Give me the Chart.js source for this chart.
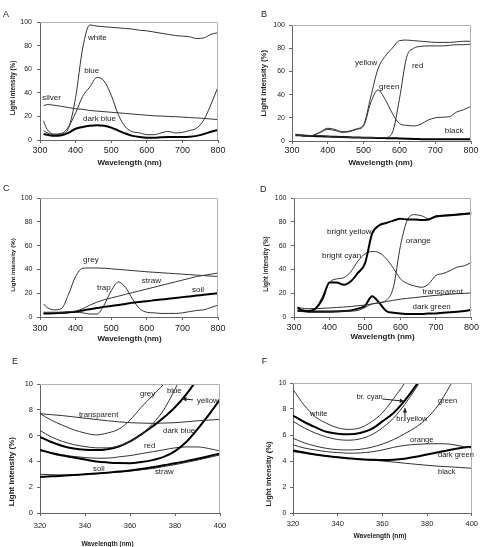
<!DOCTYPE html>
<html>
<head>
<meta charset="utf-8">
<script src="https://cdn.jsdelivr.net/npm/chart.js@4.4.0/dist/chart.umd.min.js"></script>
<style>
  body { margin: 0; background: #fff; width: 481px; height: 547px; position: relative; overflow: hidden; }
  canvas { position: absolute; }
</style>
</head>
<body>
<canvas id="cA" width="240" height="180" style="left:0;top:0"></canvas>
<canvas id="cB" width="241" height="180" style="left:240px;top:0"></canvas>
<canvas id="cC" width="240" height="170" style="left:0;top:180px"></canvas>
<canvas id="cD" width="241" height="170" style="left:240px;top:180px"></canvas>
<canvas id="cE" width="240" height="197" style="left:0;top:350px"></canvas>
<canvas id="cF" width="241" height="197" style="left:240px;top:350px"></canvas>
<script>
// wavelengths (nm)
const wl = [310, 320, 340, 360, 380, 400, 420, 440, 460, 480, 500, 520, 540, 560, 580, 600, 620, 640, 660, 680, 700, 720, 740, 760, 780, 800];
const wlUv = [320, 325, 330, 335, 340, 345, 350, 355, 360, 365, 370, 375, 380, 385, 390, 395, 400];

// A
const aWhite = [8, 6, 4.5, 5, 10, 36, 78, 97.5, 96.5, 96, 95.5, 95, 94.5, 94, 93, 92.5, 91.5, 90.5, 89.5, 88.5, 88, 87.5, 86, 86.5, 89.5, 91];
const aBlue = [16, 9, 5, 5.5, 11, 23, 37, 45, 53, 50, 38, 21.5, 11, 7, 6, 4.5, 4.5, 6, 7.3, 6, 6.5, 8, 10, 17, 30, 45];
const aSilver = [29, 30, 29.5, 28.5, 27.5, 26.5, 26, 25, 24.5, 24, 23.5, 23, 22.5, 22, 21.5, 21, 20.5, 20.3, 20, 19.7, 19.4, 19, 18.7, 18.3, 17.8, 17.3];
const aDarkBlue = [5, 4.5, 3.5, 4, 6, 9.5, 11, 12, 12.5, 12, 10.5, 8, 5.5, 3.5, 2.5, 2, 2, 2.3, 2.5, 2.5, 2.5, 2.7, 3.5, 5, 7, 8.5];

// B
const bYellow = [6, 5, 4, 5, 8, 11, 10, 8, 8.5, 10.5, 14, 38, 62, 73, 80, 86.5, 87, 86.5, 86, 85.5, 85, 85, 85, 85.5, 86, 86];
const bGreen = [5.5, 5, 4, 5, 7.5, 10, 9, 7.5, 8, 10, 13, 33, 44, 36, 24, 15, 13.5, 13, 14.5, 18, 20, 20.5, 21, 25, 27, 30];
const bRed = [5, 5, 4.5, 4.5, 4.5, 4, 3.5, 3.5, 3, 3, 3, 3, 3, 3, 7, 36, 72, 80, 81.5, 82, 82, 82, 82.5, 83, 83, 83.5];
const bBlack = [5, 5, 4.5, 4.3, 4, 3.8, 3.6, 3.4, 3.2, 3, 2.8, 2.7, 2.6, 2.5, 2.4, 2.2, 2, 1.7, 1.6, 1.5, 1.5, 1.5, 1.5, 1.5, 1.5, 1.5];

// C
const cGrey = [11, 8, 6, 7, 19, 34, 41, 41.2, 41.2, 41, 40.5, 40, 39.5, 39, 38.5, 38, 37.6, 37.2, 36.8, 36.4, 36, 35.6, 35.2, 34.8, 34.4, 34];
const cStraw = [4, 4, 4, 4, 4.5, 5, 7, 10, 12.5, 14.5, 16, 17.5, 19, 20.5, 22, 23.5, 25, 26.5, 28, 29.5, 31, 32.5, 34, 35, 36, 37];
const cSoil = [3, 3, 3.2, 3.5, 4, 4.5, 5.5, 6.5, 7.5, 8.5, 9.3, 10, 11, 12, 12.7, 13.3, 14, 14.7, 15.3, 16, 16.7, 17.3, 18, 18.6, 19.3, 20];
const cTrap = [3, 3, 3, 3, 3.5, 4, 3.5, 2.5, 2.5, 10, 22, 29.5, 25, 15, 7, 4, 3.5, 3, 3, 3, 3.5, 4.5, 5.5, 6, 8, 10];

// D
const dBrYellow = [8, 6, 5, 7, 15, 29, 29, 27, 30, 37, 45, 70, 77, 79, 81, 82.5, 82, 82, 81.5, 82, 84.5, 85, 85.5, 86, 86.5, 87];
const dBrCyan = [6, 5.5, 5, 7, 17, 29, 32, 33, 38, 47, 53, 55, 54, 49, 41, 32, 28, 26, 25, 28, 35, 36.5, 39, 42, 43, 46];
const dOrange = [5, 5, 5, 5, 5, 5, 5, 5, 5, 5.5, 8, 11, 12, 14, 25, 60, 82, 86, 85, 82.5, 85, 85.5, 86, 86.5, 87, 87.5];
const dTransparent = [8, 7.5, 7, 7, 7.3, 7.6, 8, 8.4, 8.8, 9.5, 10, 11, 12, 13, 14, 15, 15.7, 16.3, 17, 17.6, 18.2, 18.7, 19.2, 19.6, 19.9, 20.2];
const dDarkGreen = [5, 5, 4.5, 4.5, 4.5, 4.5, 4.7, 5, 5.5, 7, 9.5, 17.5, 12, 5, 3.5, 3, 2.5, 2.5, 2.5, 3, 3, 3.5, 4, 4.5, 5, 6];

// E (UV detail)
const eGrey = [7.7, 7.2, 6.8, 6.45, 6.2, 6.05, 6.2, 6.5, 7.2, 8.2, 9.1, 10, 11.3, 12.8, 14.5, 16.3, 18];
const eBlue = [6.4, 5.9, 5.55, 5.3, 5.15, 5.05, 5.05, 5.2, 5.55, 6.1, 6.9, 8.0, 9.6, 11.5, 13.5, 15.5, 17.5];
const eYellow = [5.9, 5.5, 5.2, 5.0, 4.9, 4.88, 4.95, 5.15, 5.55, 6.1, 6.7, 7.4, 8.2, 9.2, 10.4, 11.8, 13.2];
const eTransparent = [7.7, 7.62, 7.55, 7.45, 7.35, 7.25, 7.15, 7.07, 7.0, 6.97, 6.95, 6.97, 7.0, 7.07, 7.15, 7.2, 7.26];
const eDarkBlue = [4.9, 4.65, 4.45, 4.3, 4.15, 4.0, 3.92, 3.87, 3.86, 3.95, 4.1, 4.35, 4.8, 5.5, 6.5, 7.6, 8.8];
const eRed = [4.83, 4.65, 4.5, 4.38, 4.3, 4.25, 4.25, 4.35, 4.45, 4.6, 4.75, 4.9, 5.05, 5.12, 5.12, 5.0, 4.8];
const eSoil = [2.8, 2.84, 2.88, 2.94, 3.0, 3.06, 3.13, 3.21, 3.3, 3.42, 3.55, 3.7, 3.85, 4.02, 4.2, 4.4, 4.62];
const eStraw = [3.0, 2.97, 2.95, 2.97, 3.0, 3.05, 3.1, 3.17, 3.25, 3.35, 3.45, 3.6, 3.75, 3.92, 4.1, 4.3, 4.5];

// F (UV detail)
const fWhite = [9.5, 8.3, 7.4, 6.9, 6.55, 6.43, 6.55, 7.0, 7.7, 8.8, 10, 11.5, 13.2, 15, 17, 19, 21];
const fBrYellow = [7.5, 7.0, 6.6, 6.25, 6.1, 6.05, 6.15, 6.45, 7.05, 7.7, 8.65, 9.8, 11.2, 12.8, 14.5, 16.3, 18];
const fBrCyan = [7.05, 6.55, 6.15, 5.85, 5.65, 5.6, 5.7, 6.0, 6.55, 7.3, 8.35, 9.6, 11, 12.6, 14.3, 16, 18];
const fGreen = [5.75, 5.4, 5.15, 4.97, 4.87, 4.85, 4.9, 5.05, 5.3, 5.65, 6.1, 6.6, 7.3, 8.3, 9.7, 11.2, 12.8];
const fOrange = [5.25, 5.0, 4.85, 4.72, 4.65, 4.6, 4.62, 4.7, 4.85, 5.05, 5.2, 5.28, 5.32, 5.33, 5.3, 5.15, 5.0];
const fDarkGreen = [4.8, 4.65, 4.5, 4.38, 4.28, 4.2, 4.13, 4.1, 4.08, 4.1, 4.18, 4.32, 4.5, 4.68, 4.85, 5.0, 5.1];
const fBlack = [4.72, 4.6, 4.48, 4.38, 4.3, 4.22, 4.15, 4.07, 4.0, 3.92, 3.83, 3.75, 3.67, 3.6, 3.55, 3.5, 3.44];

const FONT = "'Liberation Sans', Arial, sans-serif";
const INK = '#222';

// draws panel letter, curve labels, arrows, axis titles and the light frame
function extras(p) {
  return {
    id: 'extras',
    afterDatasetsDraw(chart) {
      const ctx = chart.ctx, xs = chart.scales.x, ys = chart.scales.y, ca = chart.chartArea;
      ctx.save();
      ctx.strokeStyle = '#b0b0b0';
      ctx.lineWidth = 1;
      ctx.beginPath();
      ctx.moveTo(ca.left, Math.round(ca.top) + 0.5);
      ctx.lineTo(Math.round(ca.right) - 0.5, Math.round(ca.top) + 0.5);
      ctx.lineTo(Math.round(ca.right) - 0.5, ca.bottom);
      ctx.stroke();

      ctx.fillStyle = INK;
      ctx.textBaseline = 'middle';
      ctx.textAlign = 'left';
      ctx.font = p.noteSize + 'px ' + FONT;
      p.notes.forEach(n => ctx.fillText(n[0], xs.getPixelForValue(n[1]), ys.getPixelForValue(n[2])));

      ctx.strokeStyle = INK;
      (p.arrows || []).forEach(a => {
        const x1 = xs.getPixelForValue(a[0]), y1 = ys.getPixelForValue(a[1]);
        const x2 = xs.getPixelForValue(a[2]), y2 = ys.getPixelForValue(a[3]);
        const ang = Math.atan2(y2 - y1, x2 - x1);
        ctx.beginPath();
        ctx.moveTo(x1, y1);
        ctx.lineTo(x2, y2);
        ctx.stroke();
        ctx.beginPath();
        ctx.moveTo(x2, y2);
        ctx.lineTo(x2 - 5 * Math.cos(ang - 0.45), y2 - 5 * Math.sin(ang - 0.45));
        ctx.lineTo(x2 - 5 * Math.cos(ang + 0.45), y2 - 5 * Math.sin(ang + 0.45));
        ctx.closePath();
        ctx.fill();
      });

      ctx.font = '9px ' + FONT;
      ctx.fillText(p.letter, p.letterAt[0], p.letterAt[1]);

      ctx.textAlign = 'center';
      ctx.font = 'bold ' + p.xTitle[2] + 'px ' + FONT;
      ctx.fillText('Wavelength (nm)', p.xTitle[0], p.xTitle[1]);
      ctx.translate(p.yTitle[0], p.yTitle[1]);
      ctx.rotate(-Math.PI / 2);
      ctx.font = 'bold ' + p.yTitle[2] + 'px ' + FONT;
      ctx.fillText('Light intensity (%)', 0, 0);
      ctx.restore();
    }
  };
}

function panel(id, p) {
  const cv = document.getElementById(id);
  const W = cv.width, H = cv.height, box = p.box;
  return new Chart(cv, {
    type: 'line',
    data: {
      datasets: p.series.map(s => ({
        data: s[0].map((v, i) => ({ x: p.x[i], y: v })),
        borderColor: s[1] ? '#000' : '#333',
        borderWidth: s[1] ? 2 : 1,
        pointRadius: 0,
        fill: false,
        cubicInterpolationMode: 'monotone'
      }))
    },
    options: {
      responsive: false,
      animation: false,
      devicePixelRatio: 1,
      layout: { padding: { left: 0, top: box[1], right: W - box[2], bottom: 0 } },
      plugins: { legend: { display: false }, tooltip: { enabled: false } },
      scales: {
        x: {
          type: 'linear', min: p.xRange[0], max: p.xRange[1],
          afterFit: s => { s.height = H - box[3]; },
          ticks: { stepSize: p.xRange[2], autoSkip: false, maxRotation: 0, padding: p.tickPad[0], color: INK, font: { size: p.tickSize[0] } },
          grid: { drawOnChartArea: false, tickLength: 3, color: '#666' },
          border: { color: '#666' }
        },
        y: {
          min: 0, max: p.yRange[0],
          afterFit: s => { s.width = box[0]; },
          ticks: { stepSize: p.yRange[1], padding: p.tickPad[1], color: INK, font: { size: p.tickSize[1] } },
          grid: { drawOnChartArea: false, tickLength: 3, color: '#666' },
          border: { color: '#666' }
        }
      }
    },
    plugins: [extras(p)]
  });
}

Chart.defaults.font.family = FONT;

panel('cA', {
  x: wl, box: [40, 22, 218, 140], xRange: [300, 800, 100], yRange: [100, 20],
  tickSize: [9, 7], tickPad: [2, 5],
  series: [[aWhite], [aBlue], [aSilver], [aDarkBlue, true]],
  letter: 'A', letterAt: [3, 15], noteSize: 8,
  notes: [['white', 435, 87], ['blue', 424, 58.5], ['silver', 306, 35.6], ['dark blue', 421, 17.8]],
  xTitle: [129.5, 163, 8], yTitle: [13.3, 88, 6.3]
});

panel('cB', {
  x: wl, box: [52, 25, 231, 141], xRange: [300, 800, 100], yRange: [100, 20],
  tickSize: [9, 7], tickPad: [1.5, 4],
  series: [[bYellow], [bGreen], [bRed], [bBlack, true]],
  letter: 'B', letterAt: [21, 14.5], noteSize: 8,
  notes: [['yellow', 476, 67], ['red', 635, 64.7], ['green', 543, 46.6], ['black', 727, 8.6]],
  xTitle: [140.5, 163, 8], yTitle: [24, 83.3, 7.7]
});

panel('cC', {
  x: wl, box: [40, 18, 218, 137], xRange: [300, 800, 100], yRange: [100, 20],
  tickSize: [9, 7], tickPad: [3, 4.5],
  series: [[cGrey], [cStraw], [cSoil, true], [cTrap]],
  letter: 'C', letterAt: [3, 8.8], noteSize: 8,
  notes: [['grey', 421, 47.9], ['straw', 586, 30.3], ['trap', 460, 24.4], ['soil', 727, 22.7]],
  xTitle: [129.5, 159, 8], yTitle: [13.3, 85, 6.2]
});

panel('cD', {
  x: wl, box: [54, 18, 232, 137], xRange: [300, 800, 100], yRange: [100, 20],
  tickSize: [9, 7], tickPad: [2, 4.5],
  series: [[dBrYellow, true], [dBrCyan], [dOrange], [dTransparent], [dDarkGreen, true]],
  letter: 'D', letterAt: [20, 10], noteSize: 8,
  notes: [['bright yellow', 393, 71.4], ['orange', 615, 63.9], ['bright cyan', 379, 51.3], ['transparent', 662, 21], ['dark green', 634, 8.4]],
  xTitle: [142.5, 157, 8], yTitle: [26.7, 84, 6.4]
});

panel('cE', {
  x: wlUv, box: [40, 34, 220, 163], xRange: [320, 400, 20], yRange: [10, 2],
  tickSize: [7.5, 7.5], tickPad: [5, 4],
  series: [[eGrey], [eBlue], [eYellow, true], [eTransparent], [eDarkBlue, true], [eRed], [eSoil, true], [eStraw]],
  letter: 'E', letterAt: [12, 12], noteSize: 7.8,
  notes: [['grey', 364.4, 9.23], ['blue', 376.4, 9.46], ['yellow', 389.8, 8.69], ['transparent', 337.3, 7.6],
          ['dark blue', 374.7, 6.37], ['red', 366.2, 5.2], ['soil', 343.6, 3.43], ['straw', 371.1, 3.19]],
  arrows: [[388, 8.77, 383.1, 8.85]],
  xTitle: [107.5, 194, 6.5], yTitle: [11.7, 121.7, 8]
});

panel('cF', {
  x: wlUv, box: [53, 33, 233, 163], xRange: [320, 400, 20], yRange: [10, 2],
  tickSize: [7.5, 7], tickPad: [3, 3.5],
  series: [[fWhite], [fBrYellow, true], [fBrCyan], [fGreen], [fOrange], [fDarkGreen, true], [fBlack]],
  letter: 'F', letterAt: [21.7, 11.7], noteSize: 7.5,
  notes: [['br. cyan', 348.4, 8.92], ['white', 327.6, 7.6], ['green', 384.9, 8.6], ['br. yellow', 366.2, 7.23],
          ['orange', 372.4, 5.6], ['dark green', 384.9, 4.46], ['black', 384.9, 3.15]],
  arrows: [[360, 8.77, 369.8, 8.6], [370.1, 7.08, 370.1, 8.08]],
  xTitle: [140, 185.7, 6.6], yTitle: [29.3, 124, 7.5]
});
</script>
</body>
</html>
